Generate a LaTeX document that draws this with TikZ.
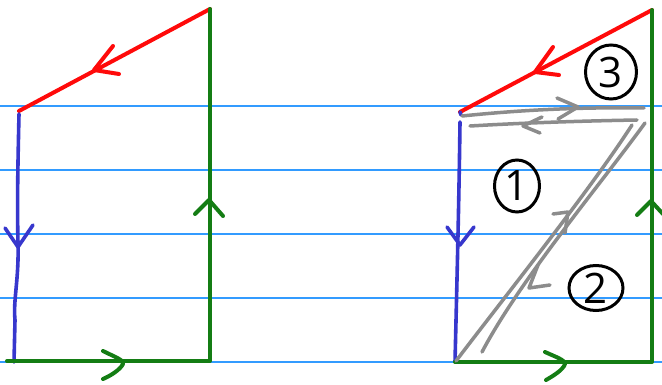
\documentclass[tikz,border=0pt]{standalone}
\usepackage{fontspec}
\setmainfont{Open Sans}
\usetikzlibrary{shapes.geometric}
\definecolor{rule}{RGB}{50,155,255}
\definecolor{pred}{RGB}{255,10,10}
\definecolor{pgreen}{RGB}{20,125,20}
\definecolor{pblue}{RGB}{55,55,205}
\definecolor{pgray}{RGB}{140,140,140}
\tikzset{
  ruleline/.style={rule, line width=1.3pt},
  ink/.style={line width=4pt, line cap=round, line join=round},
  redink/.style={ink, pred},
  greenink/.style={ink, pgreen},
  blueink/.style={ink, pblue, line width=3.6pt},
  grayink/.style={ink, pgray, line width=3.5pt},
  numcircle/.style={ellipse, draw=black, line width=3pt, inner sep=0pt,
    font=\fontsize{42}{42}\selectfont, text=black}
}
\begin{document}
\begin{tikzpicture}[x=1pt, y=-1pt]
\useasboundingbox (0,0) rectangle (662,385);
\fill[white] (0,0) rectangle (662,385);
% ruled lines
\foreach \yy in {106,170,234,298,362} \draw[ruleline] (0,\yy) -- (662,\yy);

% ---------- left figure ----------
\coordinate (LA) at (210,9);
\coordinate (LB) at (19,111);
\coordinate (LBb) at (19,114);
\coordinate (LD) at (14,362);
\coordinate (LE) at (7,361);
\coordinate (LC) at (210,361);
\draw[redink] (LA) -- (LB);
\draw[redink] (113,46) -- (94,70) -- (119,74);
\draw[blueink] (LBb) .. controls (18,160) and (17,200) .. (18,243)
  .. controls (19,280) and (13,300) .. (15,320) -- (LD);
\draw[blueink] (5,228) -- (18,247) -- (33,225);
\draw[greenink] (LE) -- (LC) -- (LA);
\draw[greenink] (103,351) .. controls (115,357) and (124,360) .. (123,364) .. controls (120,370) and (110,376) .. (103,379);
\draw[greenink] (195,214) -- (209,200) -- (223,216);

% ---------- right figure ----------
\coordinate (RA) at (652,10);
\coordinate (RB) at (460,112);
\coordinate (RBt) at (461,115);
\coordinate (RBb) at (460,122);
\coordinate (RD) at (455,362);
\coordinate (RC) at (652,362);
\draw[redink] (RA) -- (RB);
\draw[redink] (553,47) -- (535,72) -- (559,75);
\draw[blueink] (RB) -- (RBt);
\draw[blueink] (RBb) .. controls (459,200) and (457,280) .. (RD);
\draw[blueink] (447,227) -- (460,245) -- (474,227);
\draw[greenink] (RD) -- (RC) -- (RA);
\draw[greenink] (545,352) .. controls (556,357) and (565,360) .. (565,364) .. controls (563,370) and (553,376) .. (546,380);
\draw[greenink] (637,215) -- (651,201) -- (663,214);

% gray paths
\coordinate (G1a) at (462,116);
\coordinate (G1b) at (644,108);
\coordinate (G2a) at (637,120);
\coordinate (G2b) at (470,126);
\coordinate (G3a) at (456,361);
\coordinate (G3b) at (632,125);
\coordinate (G4a) at (645,123);
\coordinate (G4b) at (482,352);
\draw[grayink] (G1a) .. controls (520,110) and (580,107) .. (G1b);
\draw[grayink] (557,98) -- (578,107) -- (558,119);
\draw[grayink] (G2a) .. controls (580,121) and (520,123) .. (G2b);
\draw[grayink] (542,117) -- (523,126) -- (540,133);
\draw[grayink] (G3a) .. controls (510,290) and (590,190) .. (G3b);
\draw[grayink] (553,214) -- (568,212) -- (565,233);
\draw[grayink] (G4a) .. controls (600,185) and (520,280) .. (G4b);
\draw[grayink] (538,265) -- (529,288) -- (550,285);

% circled numbers
\node[numcircle, minimum width=45pt, minimum height=52pt] (n1) at (517,186) {1};
\node[numcircle, minimum width=54pt, minimum height=45pt] (n2) at (596,288) {2};
\node[numcircle, minimum width=51pt, minimum height=54pt] (n3) at (611,72) {3};
\end{tikzpicture}
\end{document}
